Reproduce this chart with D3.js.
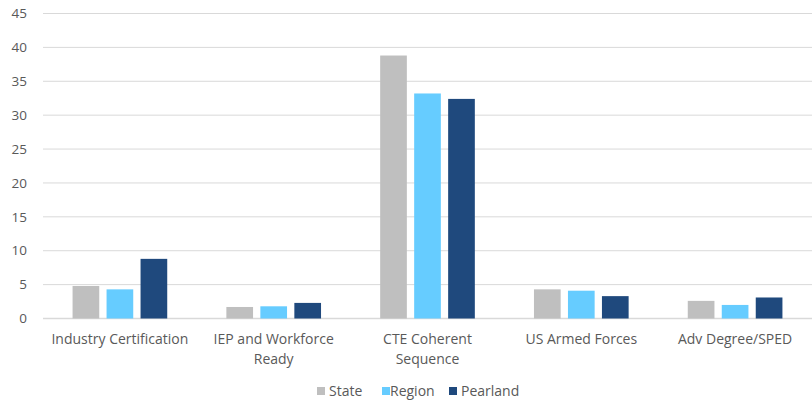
<!DOCTYPE html>
<html>
<head>
<meta charset="utf-8">
<script src="https://cdn.jsdelivr.net/npm/d3@7"></script>
<style>
  html, body { margin: 0; padding: 0; background: #fff; }
  svg { display: block; font-family: "Open Sans", Lato, sans-serif; }
</style>
</head>
<body>
<svg id="chart" width="812" height="402"></svg>
<script>
const categories = ["Industry Certification", "IEP and Workforce Ready", "CTE Coherent Sequence", "US Armed Forces", "Adv Degree/SPED"];
const seriesNames = ["State", "Region", "Pearland"];
const stateValues = [4.8, 1.7, 38.8, 4.3, 2.6];
const regionValues = [4.3, 1.8, 33.2, 4.1, 2.0];
const pearlandValues = [8.8, 2.3, 32.4, 3.3, 3.1];
const yTicks = [0, 5, 10, 15, 20, 25, 30, 35, 40, 45];
const colors = ["#bfbfbf", "#66ccff", "#1f497d"];

const seriesValues = [stateValues, regionValues, pearlandValues];
const svg = d3.select("#chart");
const margin = { left: 43, right: 0, top: 13.5, bottom: 83.5 };
const width = 812, height = 402;

const x = d3.scaleBand().domain(categories).range([margin.left, width - margin.right]).padding(0);
const xInner = d3.scaleBand().domain(seriesNames).range([0, x.bandwidth()]).paddingInner(0.215).paddingOuter(0.87);
const y = d3.scaleLinear().domain([0, 45]).range([height - margin.bottom, margin.top]);

// horizontal gridlines
svg.append("g")
  .selectAll("line")
  .data(yTicks)
  .join("line")
  .attr("x1", margin.left)
  .attr("x2", width)
  .attr("y1", d => y(d))
  .attr("y2", d => y(d))
  .attr("stroke", "#d9d9d9")
  .attr("stroke-width", d => d === 0 ? 1.5 : 1);

// y-axis tick labels
svg.append("g")
  .selectAll("text")
  .data(yTicks)
  .join("text")
  .attr("x", 27)
  .attr("y", d => y(d))
  .attr("dy", "0.35em")
  .attr("text-anchor", "end")
  .attr("fill", "#595959")
  .attr("font-size", 13.5)
  .text(d => d);

// bars
const rows = categories.map((c, i) => ({ cat: c, vals: seriesNames.map((s, j) => ({ s, j, v: seriesValues[j][i] })) }));
svg.append("g")
  .selectAll("g")
  .data(rows)
  .join("g")
  .attr("transform", d => `translate(${x(d.cat)},0)`)
  .selectAll("rect")
  .data(d => d.vals)
  .join("rect")
  .attr("x", d => xInner(d.s))
  .attr("width", xInner.bandwidth())
  .attr("y", d => y(d.v))
  .attr("height", d => y(0) - y(d.v))
  .attr("fill", d => colors[d.j]);

// category labels, wrapped to fit
const labels = svg.append("g")
  .selectAll("text")
  .data(categories)
  .join("text")
  .attr("x", d => x(d) + x.bandwidth() / 2)
  .attr("y", 344)
  .attr("text-anchor", "middle")
  .attr("fill", "#595959")
  .attr("font-size", 14);

labels.each(function(d) {
  const t = d3.select(this);
  const words = d.split(" ");
  let line = [];
  let tspan = t.append("tspan").attr("x", x(d) + x.bandwidth() / 2).attr("dy", 0);
  words.forEach(w => {
    line.push(w);
    tspan.text(line.join(" "));
    if (tspan.node().getComputedTextLength() > 145 && line.length > 1) {
      line.pop();
      tspan.text(line.join(" "));
      line = [w];
      tspan = t.append("tspan").attr("x", x(d) + x.bandwidth() / 2).attr("dy", 20).text(w);
    }
  });
});

// legend
const legendItems = [
  { name: seriesNames[0], sx: 317, tx: 329 },
  { name: seriesNames[1], sx: 382, tx: 390 },
  { name: seriesNames[2], sx: 449, tx: 461 }
];
const legend = svg.append("g");
legendItems.forEach((it, i) => {
  legend.append("rect")
    .attr("x", it.sx).attr("y", 387).attr("width", 8).attr("height", 8)
    .attr("fill", colors[i]);
  legend.append("text")
    .attr("x", it.tx).attr("y", 391).attr("dy", "0.35em")
    .attr("fill", "#595959").attr("font-size", 14)
    .text(it.name);
});
</script>
</body>
</html>
